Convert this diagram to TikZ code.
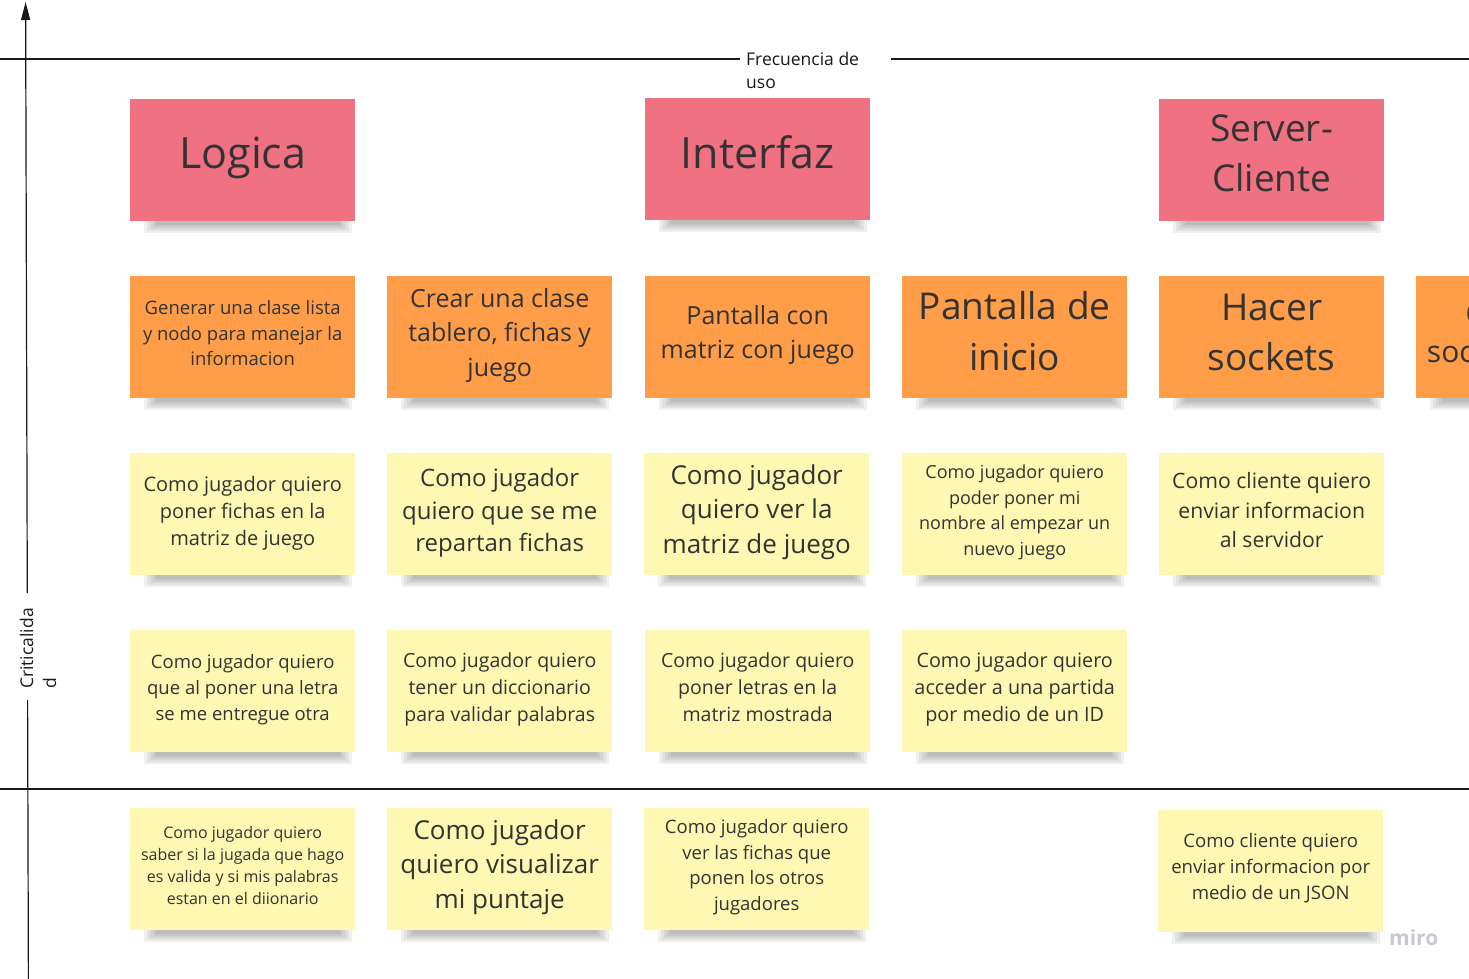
\documentclass[tikz,border=0pt]{standalone}
\usepackage{fontspec}
\setmainfont{Open Sans}
\usetikzlibrary{arrows.meta}
\definecolor{pinknote}{HTML}{F07282}
\definecolor{orangenote}{HTML}{FF9D48}
\definecolor{yellownote}{HTML}{FFF8B2}
\definecolor{txt}{HTML}{333333}
\definecolor{mirogray}{HTML}{C9C9D6}
\newcommand{\fs}[2]{\fontsize{#1}{#2}\selectfont}
% #1 name, #2 x, #3 y (top), #4 colour, #5 font, #6 text lift, #7 text
\newcommand{\sticky}[7]{%
  \foreach \k in {0,...,4}{%
    \fill[black,opacity=0.06] ({#2+14+3*\k},{#3+121}) rectangle ({#2+222-3*\k},{#3+134-2*\k});}
  \node[note,fill=#4] (#1) at (#2,#3) {};%
  \node[notetext,font=#5,yshift=#6pt] (#1-t) at (#1.center) {#7};%
}
\tikzset{
  note/.style={anchor=north west, inner sep=0pt, minimum width=225pt, minimum height=122pt},
  notetext/.style={inner sep=0pt, align=center, text=txt},
  axis/.style={line width=1.2pt, draw=black!90},
  lbl/.style={inner sep=0pt, align=left, text=black!90, font=\fs{17.5}{23}}
}
\begin{document}
\begin{tikzpicture}[x=1pt,y=-1pt]
\useasboundingbox (0,0) rectangle (1469,979);
\begin{scope}
\clip (0,0) rectangle (1469,979);
% axes
\coordinate (vb) at (28.4,979);
\coordinate (vg1) at (27.6,700);
\coordinate (vg2) at (27.3,593);
\coordinate (vt) at (25.6,2);
\draw[axis] (vb) -- (vg1);
\draw[axis,-{Triangle[length=18pt,width=9pt]}] (vg2) -- (vt);
\coordinate (h1a) at (0,59);
\coordinate (h1b) at (740,59);
\coordinate (h1c) at (891,59);
\coordinate (h1d) at (1469,59);
\draw[axis] (h1a) -- (h1b);
\draw[axis] (h1c) -- (h1d);
\coordinate (h2a) at (0,789);
\coordinate (h2b) at (1469,789);
\draw[axis] (h2a) -- (h2b);
\node[lbl,anchor=west] (frec) at (746,70) {Frecuencia de\\uso};
\node[lbl,anchor=west,rotate=90] (crit) at (38,689) {Criticalida\\d};
% row 1
\sticky{logica}{130}{99}{pinknote}{\fs{43}{50}}{2}{Logica}
\sticky{interfaz}{645}{98}{pinknote}{\fs{43}{50}}{7}{Interfaz}
\sticky{server}{1159}{99}{pinknote}{\fs{37}{50}}{7}{Server-\\Cliente}
% row 2
\sticky{generar}{130}{276}{orangenote}{\fs{18.5}{25.5}}{4}{Generar una clase lista\\y nodo para manejar la\\informacion}
\sticky{crear}{387}{276}{orangenote}{\fs{25}{34.5}}{2}{Crear una clase\\tablero, fichas y\\juego}
\sticky{pantallacon}{645}{276}{orangenote}{\fs{25}{34}}{2}{Pantalla con\\matriz con juego}
\sticky{pantallainicio}{902}{276}{orangenote}{\fs{37}{51}}{6}{Pantalla de\\inicio}
\sticky{sockets}{1159}{276}{orangenote}{\fs{37}{50}}{5}{Hacer\\sockets}
\sticky{conectar}{1416}{276}{orangenote}{\fs{30}{38}}{4}{Conectar\\sockets cliente}
% row 3
\sticky{fichas}{130}{453}{yellownote}{\fs{20}{27}}{1}{Como jugador quiero\\poner fichas en la\\matriz de juego}
\sticky{repartan}{387}{453}{yellownote}{\fs{24}{32.5}}{1}{Como jugador\\quiero que se me\\repartan fichas}
\sticky{vermatriz}{644}{453}{yellownote}{\fs{26}{34.5}}{2}{Como jugador\\quiero ver la\\matriz de juego}
\sticky{nombre}{902}{453}{yellownote}{\fs{18}{25.7}}{2}{Como jugador quiero\\poder poner mi\\nombre al empezar un\\nuevo juego}
\sticky{enviar}{1159}{453}{yellownote}{\fs{21.2}{29.5}}{4}{Como cliente quiero\\enviar informacion\\al servidor}
% row 4
\sticky{letra}{130}{630}{yellownote}{\fs{18.5}{26}}{2}{Como jugador quiero\\que al poner una letra\\se me entregue otra}
\sticky{diccionario}{387}{630}{yellownote}{\fs{19.5}{27}}{2}{Como jugador quiero\\tener un diccionario\\para validar palabras}
\sticky{letras}{645}{630}{yellownote}{\fs{19.5}{27}}{4}{Como jugador quiero\\poner letras en la\\matriz mostrada}
\sticky{partida}{902}{630}{yellownote}{\fs{19.8}{27}}{2}{Como jugador quiero\\acceder a una partida\\por medio de un ID}
% row 5
\sticky{valida}{130}{808}{yellownote}{\fs{16}{22}}{4}{Como jugador quiero\\saber si la jugada que hago\\es valida y si mis palabras\\estan en el diionario}
\sticky{puntaje}{387}{808}{yellownote}{\fs{26}{34.5}}{2}{Como jugador\\quiero visualizar\\mi puntaje}
\sticky{otros}{644}{808}{yellownote}{\fs{18.5}{25.5}}{2}{Como jugador quiero\\ver las fichas que\\ponen los otros\\jugadores}
\sticky{json}{1158}{810}{yellownote}{\fs{18.6}{26}}{3}{Como cliente quiero\\enviar informacion por\\medio de un JSON}
\node[inner sep=0pt, text=mirogray, font=\fs{21}{24}\bfseries, anchor=west] (miro) at (1389,938) {miro};
\end{scope}
\end{tikzpicture}
\end{document}
